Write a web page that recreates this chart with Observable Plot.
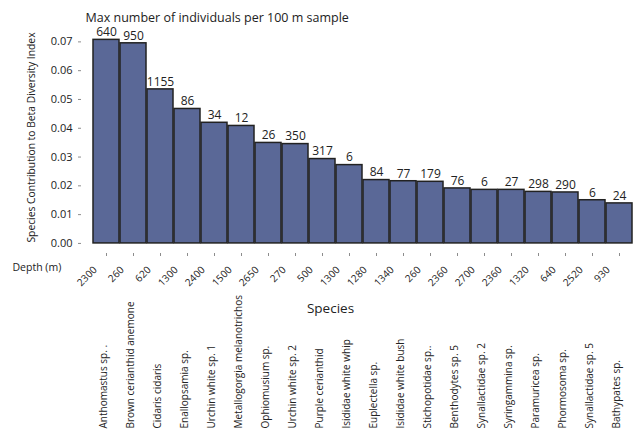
<!DOCTYPE html>
<html><head><meta charset="utf-8">
<script src="https://cdn.jsdelivr.net/npm/d3@7"></script>
<script src="https://cdn.jsdelivr.net/npm/@observablehq/plot@0.6"></script>
<style>body{margin:0;background:#fff}</style>
</head><body><div id="chart"></div>
<script>
const species = ["Anthomastus sp. .", "Brown cerianthid anemone", "Cidaris cidaris", "Enallopsamia sp.", "Urchin white sp. 1", "Metallogorgia melanotrichos", "Ophiomusium sp.", "Urchin white sp. 2", "Purple cerianthid", "Isididae white whip", "Euplectella sp.", "Isididae white bush", "Stichopotidae sp..", "Benthodytes sp. 5", "Synallactidae sp. 2", "Syringammina sp.", "Paramuricea sp.", "Phormosoma sp.", "Synallactidae sp. 5", "Bathypates sp."];
const depths = [2300, 260, 620, 1300, 2400, 1500, 2650, 270, 500, 1300, 1280, 1340, 260, 2360, 2700, 2360, 1320, 640, 2520, 930];
const maxCounts = [640, 950, 1155, 86, 34, 12, 26, 350, 317, 6, 84, 77, 179, 76, 6, 27, 298, 290, 6, 24];
const betaContribution = [0.0707, 0.0695, 0.0535, 0.0467, 0.0419, 0.0408, 0.0349, 0.0345, 0.0293, 0.0272, 0.0220, 0.0216, 0.0214, 0.0191, 0.0186, 0.0186, 0.0179, 0.0177, 0.0150, 0.0139];
const yTicks = [0, 0.01, 0.02, 0.03, 0.04, 0.05, 0.06, 0.07];
const chartTitle = "Max number of individuals per 100 m sample";
const yTitle = "Species Contribution to Beta Diversity Index";
const xTitle = "Species";
const depthTitle = "Depth (m)";

const rows = species.map((s, i) => ({species: s, depth: depths[i], count: maxCounts[i], value: betaContribution[i]}));

const plot = Plot.plot({
  width: 643, height: 435,
  marginTop: 29, marginLeft: 81, marginRight: 0, marginBottom: 182,
  style: {fontFamily: "'Open Sans', sans-serif", fontSize: "11px", color: "#222", background: "#fff"},
  x: {domain: species, range: [82.6, 643], padding: 0.05, axis: null},
  y: {domain: [-0.0035, 0.0743], axis: null},
  marks: [
    Plot.barY(rows, {x: "species", y: "value", fill: "#5a6897", stroke: "#222", strokeWidth: 1.5}),
    Plot.axisY({ticks: yTicks, tickFormat: d3.format(".2f"), tickSize: 3, tickPadding: 6, line: true, stroke: "#8c8c8c", fill: "#222", fontSize: 11, label: null}),
    Plot.axisX({tickSize: 3, tickFormat: () => "", line: true, stroke: "#8c8c8c", label: null}),
    Plot.text(rows, {x: "species", y: "value", text: d => String(d.count), dy: -7.5, fontSize: 12, fill: "#222"}),
    Plot.text(rows, {x: "species", frameAnchor: "bottom", text: d => String(d.depth), rotate: -45, textAnchor: "end", dx: -9, dy: 17, fontSize: 10, fill: "#222"}),
    Plot.text(rows, {x: "species", frameAnchor: "bottom", text: "species", rotate: -90, textAnchor: "start", dy: 175, fontSize: 10, fill: "#222"}),
    Plot.text([chartTitle], {frameAnchor: "top-left", text: d => d, textAnchor: "start", dx: 4, dy: -16, fontSize: 12.5, fill: "#222"}),
    Plot.text([yTitle], {frameAnchor: "left", text: d => d, rotate: -90, textAnchor: "middle", dx: -50, dy: -4, fontSize: 10.3, fill: "#222"}),
    Plot.text([depthTitle], {frameAnchor: "bottom-left", text: d => d, textAnchor: "start", dx: -69, dy: 17, fontSize: 10.5, fill: "#222"}),
    Plot.text([xTitle], {frameAnchor: "bottom", text: d => d, dx: -32, dy: 59, fontSize: 13.5, fill: "#222"})
  ]
});
document.getElementById("chart").appendChild(plot);
</script>
</body></html>
